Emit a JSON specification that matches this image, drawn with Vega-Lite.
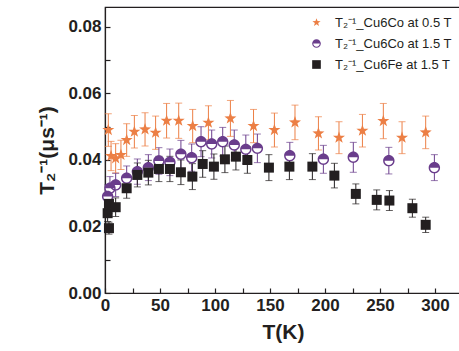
{
  "$schema": "https://vega.github.io/schema/vega-lite/v6.json",
  "width": 356,
  "height": 286,
  "autosize": "none",
  "padding": {"left": 105, "top": 7, "right": 0, "bottom": 58},
  "background": "white",
  "config": {
    "view": {"stroke": "#231f20", "strokeWidth": 1.2},
    "font": "Liberation Sans",
    "axis": {"grid": false, "domainColor": "#231f20", "tickColor": "#231f20", "labelColor": "#231f20", "titleColor": "#231f20", "labelFont": "Liberation Sans", "labelFontWeight": "bold", "labelFontSize": 17, "titleFont": "Liberation Sans", "titleFontWeight": "bold", "titleFontSize": 21, "domainWidth": 1.2}
  },
  "data": {"values": [
    {"s": "T₂⁻¹_Cu6Co at 0.5 T", "T": 3, "v": 0.049, "e": 0.0049},
    {"s": "T₂⁻¹_Cu6Co at 0.5 T", "T": 5.5, "v": 0.0412, "e": 0.0044},
    {"s": "T₂⁻¹_Cu6Co at 0.5 T", "T": 9.7, "v": 0.0405, "e": 0.0044},
    {"s": "T₂⁻¹_Cu6Co at 0.5 T", "T": 14.5, "v": 0.0415, "e": 0.0044},
    {"s": "T₂⁻¹_Cu6Co at 0.5 T", "T": 19.7, "v": 0.046, "e": 0.0049},
    {"s": "T₂⁻¹_Cu6Co at 0.5 T", "T": 26.7, "v": 0.0485, "e": 0.0049},
    {"s": "T₂⁻¹_Cu6Co at 0.5 T", "T": 36.4, "v": 0.0492, "e": 0.005},
    {"s": "T₂⁻¹_Cu6Co at 0.5 T", "T": 46, "v": 0.0482, "e": 0.005},
    {"s": "T₂⁻¹_Cu6Co at 0.5 T", "T": 56, "v": 0.0518, "e": 0.0052},
    {"s": "T₂⁻¹_Cu6Co at 0.5 T", "T": 67, "v": 0.0518, "e": 0.0053},
    {"s": "T₂⁻¹_Cu6Co at 0.5 T", "T": 79.7, "v": 0.0502, "e": 0.005},
    {"s": "T₂⁻¹_Cu6Co at 0.5 T", "T": 94, "v": 0.0512, "e": 0.0051},
    {"s": "T₂⁻¹_Cu6Co at 0.5 T", "T": 114, "v": 0.0525, "e": 0.0054},
    {"s": "T₂⁻¹_Cu6Co at 0.5 T", "T": 135, "v": 0.0502, "e": 0.005},
    {"s": "T₂⁻¹_Cu6Co at 0.5 T", "T": 154, "v": 0.049, "e": 0.0051},
    {"s": "T₂⁻¹_Cu6Co at 0.5 T", "T": 172.7, "v": 0.0513, "e": 0.0052},
    {"s": "T₂⁻¹_Cu6Co at 0.5 T", "T": 194, "v": 0.048, "e": 0.005},
    {"s": "T₂⁻¹_Cu6Co at 0.5 T", "T": 212.7, "v": 0.0467, "e": 0.0048},
    {"s": "T₂⁻¹_Cu6Co at 0.5 T", "T": 234, "v": 0.0488, "e": 0.0049},
    {"s": "T₂⁻¹_Cu6Co at 0.5 T", "T": 253, "v": 0.0517, "e": 0.0053},
    {"s": "T₂⁻¹_Cu6Co at 0.5 T", "T": 270, "v": 0.0467, "e": 0.0048},
    {"s": "T₂⁻¹_Cu6Co at 0.5 T", "T": 291.5, "v": 0.0483, "e": 0.0049},
    {"s": "T₂⁻¹_Cu6Co at 1.5 T", "T": 2.4, "v": 0.029, "e": 0.0035},
    {"s": "T₂⁻¹_Cu6Co at 1.5 T", "T": 4.5, "v": 0.0315, "e": 0.0035},
    {"s": "T₂⁻¹_Cu6Co at 1.5 T", "T": 9.7, "v": 0.0325, "e": 0.0035},
    {"s": "T₂⁻¹_Cu6Co at 1.5 T", "T": 19.7, "v": 0.0345, "e": 0.0037},
    {"s": "T₂⁻¹_Cu6Co at 1.5 T", "T": 29.4, "v": 0.0365, "e": 0.0038},
    {"s": "T₂⁻¹_Cu6Co at 1.5 T", "T": 39.4, "v": 0.0377, "e": 0.0039},
    {"s": "T₂⁻¹_Cu6Co at 1.5 T", "T": 49, "v": 0.0397, "e": 0.004},
    {"s": "T₂⁻¹_Cu6Co at 1.5 T", "T": 59, "v": 0.0393, "e": 0.004},
    {"s": "T₂⁻¹_Cu6Co at 1.5 T", "T": 69, "v": 0.0417, "e": 0.0042},
    {"s": "T₂⁻¹_Cu6Co at 1.5 T", "T": 78.8, "v": 0.0407, "e": 0.0041},
    {"s": "T₂⁻¹_Cu6Co at 1.5 T", "T": 87.3, "v": 0.0455, "e": 0.0045},
    {"s": "T₂⁻¹_Cu6Co at 1.5 T", "T": 97, "v": 0.0448, "e": 0.0042},
    {"s": "T₂⁻¹_Cu6Co at 1.5 T", "T": 107, "v": 0.0455, "e": 0.0043},
    {"s": "T₂⁻¹_Cu6Co at 1.5 T", "T": 117.5, "v": 0.0445, "e": 0.0045},
    {"s": "T₂⁻¹_Cu6Co at 1.5 T", "T": 128, "v": 0.0432, "e": 0.0043},
    {"s": "T₂⁻¹_Cu6Co at 1.5 T", "T": 138.5, "v": 0.0435, "e": 0.0043},
    {"s": "T₂⁻¹_Cu6Co at 1.5 T", "T": 168, "v": 0.0413, "e": 0.004},
    {"s": "T₂⁻¹_Cu6Co at 1.5 T", "T": 198.5, "v": 0.0402, "e": 0.0042},
    {"s": "T₂⁻¹_Cu6Co at 1.5 T", "T": 225.7, "v": 0.0408, "e": 0.0045},
    {"s": "T₂⁻¹_Cu6Co at 1.5 T", "T": 258, "v": 0.0398, "e": 0.004},
    {"s": "T₂⁻¹_Cu6Co at 1.5 T", "T": 299.4, "v": 0.0377, "e": 0.0039},
    {"s": "T₂⁻¹_Cu6Fe at 1.5 T", "T": 3.6, "v": 0.0195, "e": 0.0018},
    {"s": "T₂⁻¹_Cu6Fe at 1.5 T", "T": 2.4, "v": 0.024, "e": 0.0025},
    {"s": "T₂⁻¹_Cu6Fe at 1.5 T", "T": 3.6, "v": 0.0268, "e": 0.0028},
    {"s": "T₂⁻¹_Cu6Fe at 1.5 T", "T": 9.7, "v": 0.0258, "e": 0.0028},
    {"s": "T₂⁻¹_Cu6Fe at 1.5 T", "T": 19.7, "v": 0.0315, "e": 0.003},
    {"s": "T₂⁻¹_Cu6Fe at 1.5 T", "T": 29.4, "v": 0.0355, "e": 0.0036},
    {"s": "T₂⁻¹_Cu6Fe at 1.5 T", "T": 39.4, "v": 0.0362, "e": 0.0037},
    {"s": "T₂⁻¹_Cu6Fe at 1.5 T", "T": 49, "v": 0.0373, "e": 0.0038},
    {"s": "T₂⁻¹_Cu6Fe at 1.5 T", "T": 59, "v": 0.0373, "e": 0.0038},
    {"s": "T₂⁻¹_Cu6Fe at 1.5 T", "T": 69, "v": 0.0363, "e": 0.0037},
    {"s": "T₂⁻¹_Cu6Fe at 1.5 T", "T": 79.4, "v": 0.035, "e": 0.0039},
    {"s": "T₂⁻¹_Cu6Fe at 1.5 T", "T": 88.8, "v": 0.0388, "e": 0.004},
    {"s": "T₂⁻¹_Cu6Fe at 1.5 T", "T": 99, "v": 0.038, "e": 0.0038},
    {"s": "T₂⁻¹_Cu6Fe at 1.5 T", "T": 109, "v": 0.0402, "e": 0.004},
    {"s": "T₂⁻¹_Cu6Fe at 1.5 T", "T": 119, "v": 0.041, "e": 0.004},
    {"s": "T₂⁻¹_Cu6Fe at 1.5 T", "T": 129.4, "v": 0.04, "e": 0.004},
    {"s": "T₂⁻¹_Cu6Fe at 1.5 T", "T": 149, "v": 0.0377, "e": 0.0039},
    {"s": "T₂⁻¹_Cu6Fe at 1.5 T", "T": 167.6, "v": 0.038, "e": 0.0039},
    {"s": "T₂⁻¹_Cu6Fe at 1.5 T", "T": 188.5, "v": 0.038, "e": 0.0039},
    {"s": "T₂⁻¹_Cu6Fe at 1.5 T", "T": 208.5, "v": 0.0353, "e": 0.0037},
    {"s": "T₂⁻¹_Cu6Fe at 1.5 T", "T": 228, "v": 0.0298, "e": 0.003},
    {"s": "T₂⁻¹_Cu6Fe at 1.5 T", "T": 247, "v": 0.028, "e": 0.003},
    {"s": "T₂⁻¹_Cu6Fe at 1.5 T", "T": 258.5, "v": 0.0278, "e": 0.003},
    {"s": "T₂⁻¹_Cu6Fe at 1.5 T", "T": 279.4, "v": 0.0255, "e": 0.0027},
    {"s": "T₂⁻¹_Cu6Fe at 1.5 T", "T": 291.5, "v": 0.0205, "e": 0.0023}
  ]},
  "resolve": {"axis": {"x": "independent", "y": "independent"}, "legend": {"color": "independent", "shape": "independent"}},
  "layer": [
    {
      "mark": {"type": "errorbar", "ticks": {"size": 7}, "thickness": 1},
      "encoding": {
        "x": {"field": "T", "type": "quantitative", "scale": {"domain": [0, 323.6], "nice": false, "zero": false},
          "axis": {"title": "T(K)", "orient": "bottom", "values": [0, 50, 100, 150, 200, 250, 300], "ticks": false, "labelPadding": 4, "titlePadding": 8, "labelFlush": false}},
        "y": {"field": "v", "type": "quantitative", "scale": {"domain": [0, 0.086], "nice": false},
          "axis": {"title": "T₂⁻¹(μs⁻¹)", "orient": "left", "values": [0, 0.02, 0.04, 0.06, 0.08], "format": ".2f", "ticks": false, "labelPadding": 4, "titlePadding": 10, "labelFlush": false}},
        "yError": {"field": "e"},
        "color": {"field": "s", "type": "nominal", "legend": null,
          "scale": {"domain": ["T₂⁻¹_Cu6Co at 0.5 T", "T₂⁻¹_Cu6Co at 1.5 T", "T₂⁻¹_Cu6Fe at 1.5 T"], "range": ["#ec7f45", "#6a3d8c", "#231f20"]}}
      }
    },
    {
      "transform": [{"filter": "datum.s == 'T₂⁻¹_Cu6Co at 1.5 T'"}],
      "mark": {"type": "point", "shape": "circle", "filled": true, "fill": "white", "size": 100, "opacity": 1},
      "encoding": {
        "x": {"field": "T", "type": "quantitative",
          "axis": {"title": null, "orient": "top", "offset": -286, "values": [0, 25, 50, 75, 100, 125, 150, 175, 200, 225, 250, 275, 300], "labels": false, "domain": false, "tickSize": 5, "tickWidth": 1.2}},
        "y": {"field": "v", "type": "quantitative",
          "axis": {"title": null, "orient": "right", "offset": -356, "values": [0, 0.01, 0.02, 0.03, 0.04, 0.05, 0.06, 0.07, 0.08], "labels": false, "domain": false, "tickSize": 5, "tickWidth": 1.2}}
      }
    },
    {
      "mark": {"type": "point", "filled": true, "opacity": 1},
      "encoding": {
        "x": {"field": "T", "type": "quantitative", "axis": null},
        "y": {"field": "v", "type": "quantitative", "axis": null},
        "color": {"field": "s", "type": "nominal",
          "scale": {"domain": ["T₂⁻¹_Cu6Co at 0.5 T", "T₂⁻¹_Cu6Co at 1.5 T", "T₂⁻¹_Cu6Fe at 1.5 T"], "range": ["#ec7f45", "#6a3d8c", "#231f20"]},
          "legend": {"title": null, "orient": "top-right", "offset": 9, "labelFont": "Liberation Sans", "labelFontSize": 13, "labelColor": "#231f20", "rowPadding": 7, "symbolSize": 75, "labelOffset": 12}},
        "shape": {"field": "s", "type": "nominal",
          "scale": {"domain": ["T₂⁻¹_Cu6Co at 0.5 T", "T₂⁻¹_Cu6Co at 1.5 T", "T₂⁻¹_Cu6Fe at 1.5 T"], "range": ["M0,-1L0.235,-0.324L0.951,-0.309L0.38,0.124L0.588,0.809L0,0.4L-0.588,0.809L-0.38,0.124L-0.951,-0.309L-0.235,-0.324Z", "M-1,0A1,1,0,0,1,1,0Z M-1,0A1,1,0,0,0,1,0L0.75,0A0.75,0.75,0,0,1,-0.75,0Z", "square"]},
          "legend": {"title": null, "orient": "top-right", "offset": 9, "labelFont": "Liberation Sans", "labelFontSize": 13, "labelColor": "#231f20", "rowPadding": 7, "symbolSize": 75, "labelOffset": 12}},
        "size": {"field": "s", "type": "nominal", "legend": null,
          "scale": {"domain": ["T₂⁻¹_Cu6Co at 0.5 T", "T₂⁻¹_Cu6Co at 1.5 T", "T₂⁻¹_Cu6Fe at 1.5 T"], "range": [160, 100, 85]}}
      }
    }
  ]
}
